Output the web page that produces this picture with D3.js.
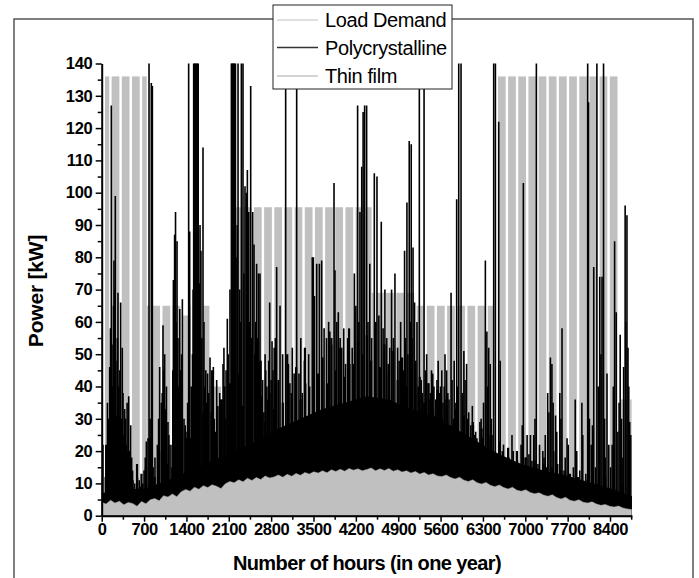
<!DOCTYPE html>
<html><head><meta charset="utf-8">
<script src="https://cdn.jsdelivr.net/npm/d3@7"></script>
<style>
body{margin:0;background:#fff}
svg{display:block;font-family:"Liberation Sans",Arial,sans-serif}
</style>
</head><body>
<svg id="chart" width="699" height="578"></svg>
<script>
// ---------- data ----------
const yTicks = [0,10,20,30,40,50,60,70,80,90,100,110,120,130,140];
const yMinor = [5,15,25,35,45,55,65,75,85,95,105,115,125,135];
const xTicks = [0,700,1400,2100,2800,3500,4200,4900,5600,6300,7000,7700,8400];
const xMinor = [350,1050,1750,2450,3150,3850,4550,5250,5950,6650,7350,8050,8750];

// Load demand: level segments (start hour, end hour, peak kW) with weekend gaps
const loadStart = [55, 744, 1340, 1450, 1780, 2140, 4460, 5180, 6533, 8560];
const loadEnd   = [744, 1340, 1450, 1780, 2140, 4460, 5180, 6478, 8548, 8760];
const loadPeak  = [136, 65, 62, 65, 40, 95.5, 69, 65, 136, 36];
const weekGap   = [124, 164]; // hours within each 168 h week with low load

// Thin film: upper edge of output, one value per 73 h (0 ... 8760)
const sampleStep = 73;
const thinFilm = [
4.2,3.6,4.8,3.9,4.5,3.4,4.1,3.8,2.9,4.4,
3.7,4.9,5.3,4.6,6.2,5.8,6.7,5.9,7.4,8.1,
7.6,8.8,8.2,9.3,8.7,9.6,9.1,8.4,9.9,10.6,
10.2,11.1,10.5,11.6,10.9,11.8,11.2,12.3,11.7,12.0,
12.6,11.9,12.8,12.2,13.1,12.5,13.4,12.9,13.6,13.2,
13.9,13.3,14.2,13.7,14.4,13.8,14.6,14.1,14.5,13.9,
14.3,14.8,13.9,14.5,14.0,14.6,13.8,14.2,13.5,13.9,
13.2,13.7,12.9,13.4,12.6,13.0,12.3,12.1,12.6,11.8,
11.4,11.9,11.0,10.6,11.1,10.2,9.8,10.3,9.4,9.0,
9.5,8.7,8.3,8.8,7.9,7.6,8.0,7.2,6.8,7.1,
6.4,6.0,6.5,5.6,5.2,5.7,4.8,4.5,4.9,4.2,
3.9,4.3,3.6,3.2,3.5,2.9,2.7,3.0,2.4,2.1,1.9];

// Polycrystalline: solid lower band, one value per 365 h (0 ... 8760)
const floorStep = 365;
const polyFloor = [7,8,8.5,11,14,17,20,23,27,30,33,35,37,36,33,31,27,23,19,16,14,12.5,10.5,8.5,6];

// Polycrystalline: daily maxima, one value per 73 h (0 ... 8760)
const polyBase = [
12,22,9,18,30,14,20,11,16,13,
15,24,12,20,28,16,22,35,18,26,
24,38,20,32,27,45,22,36,30,41,
28,44,34,26,40,31,48,29,38,33,
42,35,50,38,46,36,52,40,47,44,
49,41,55,45,52,43,58,47,54,50,
56,48,60,46,53,44,51,42,49,40,
46,38,43,35,41,33,39,30,36,28,
33,26,31,24,29,22,27,20,25,19,
23,18,21,16,20,15,18,14,17,13,
16,12,15,11,14,10,13,9.5,12,9,
11,8.5,10,8,12,7.5,9,7,10,6.5,6];

// Polycrystalline peaks [hour, kW] (values above 140 run off the top)
const polySpikes = [
[21,22],[60,12],[132,46],[159,127],[187,53],[203,79],[225,99],[245,31],[269,69],[290,18],
[313,66],[352,38],[379,33],[407,22],[446,37],[479,28],[510,14],[545,10],[590,12],[640,9],
[700,14],[738,23],[765,24],[782,145],[820,134],[837,133],[880,18],[920,22],[958,46],[985,35],
[1013,59],[1040,50],[1070,40],[1095,29],[1130,22],[1160,15],[1185,73],[1205,87],[1220,94],[1245,85],
[1270,40],[1290,64],[1333,67],[1360,30],[1400,24],[1437,145],[1454,88],[1480,40],[1520,145],[1535,145],
[1550,145],[1565,145],[1580,145],[1595,145],[1612,72],[1640,82],[1674,114],[1700,40],[1720,45],[1750,44],
[1790,49],[1845,46],[1880,26],[1920,34],[1970,31],[2005,47],[2032,40],[2076,61],[2100,28],[2143,145],
[2155,145],[2168,145],[2180,145],[2195,145],[2210,145],[2253,145],[2308,145],[2335,145],[2368,102],[2390,100],
[2407,107],[2430,94],[2462,133],[2495,94],[2517,84],[2560,78],[2590,75],[2616,75],[2640,37],[2680,32],
[2710,45],[2745,36],[2776,66],[2815,54],[2850,52],[2891,77],[2947,65],[2990,50],[3040,145],[3085,47],
[3110,41],[3150,52],[3180,44],[3222,145],[3260,44],[3290,55],[3315,38],[3350,48],[3370,41],[3420,50],
[3480,80],[3498,80],[3515,68],[3553,78],[3597,78],[3635,79],[3675,58],[3715,55],[3750,60],[3770,57],
[3800,53],[3839,103],[3855,76],[3885,60],[3910,63],[3940,55],[3966,52],[4000,58],[4030,47],[4065,55],
[4100,47],[4140,52],[4175,75],[4200,65],[4229,127],[4250,60],[4268,94],[4297,108],[4320,125],[4345,127],
[4378,127],[4400,60],[4430,78],[4460,55],[4505,106],[4549,105],[4580,62],[4620,91],[4650,58],[4680,70],
[4710,55],[4735,47],[4760,52],[4790,70],[4820,55],[4846,75],[4890,52],[4915,48],[4940,60],[4970,45],
[5005,82],[5044,97],[5082,116],[5115,115],[5145,83],[5170,66],[5210,60],[5249,145],[5280,42],[5327,145],
[5350,45],[5395,41],[5430,38],[5470,44],[5520,36],[5560,48],[5600,40],[5640,35],[5673,50],[5720,38],
[5773,69],[5810,30],[5840,35],[5866,98],[5900,145],[5938,145],[5985,51],[6030,47],[6065,32],[6100,28],
[6125,34],[6160,25],[6180,26],[6220,22],[6250,29],[6290,24],[6340,79],[6365,57],[6395,52],[6420,47],
[6450,25],[6478,145],[6506,145],[6561,122],[6585,48],[6620,20],[6670,18],[6710,21],[6755,15],[6800,20],
[6835,15],[6870,17],[6890,16],[6930,22],[6968,103],[7000,18],[7030,25],[7060,19],[7085,25],[7110,17],
[7140,25],[7183,145],[7210,16],[7235,22],[7270,14],[7310,18],[7350,15],[7390,32],[7415,49],[7440,47],
[7470,20],[7500,31],[7535,16],[7570,38],[7607,58],[7640,14],[7690,24],[7725,12],[7760,11],[7795,15],
[7825,36],[7860,12],[7900,14],[7935,35],[7970,10],[8000,13],[8031,145],[8045,128],[8090,22],[8131,77],
[8160,15],[8183,145],[8230,74],[8268,74],[8293,145],[8320,18],[8350,44],[8380,22],[8410,15],[8435,22],
[8476,85],[8502,63],[8530,26],[8568,56],[8600,18],[8625,46],[8650,96],[8680,93],[8697,52],[8725,29],[8745,25],
[95,35],[110,30],[145,58],[175,40],[195,65],[215,70],[235,48],[258,55],[280,40],[300,45],
[325,30],[340,52],[365,25],[395,30],[420,35],[460,20],[495,18],[620,11],[680,10],[720,18],
[800,30],[850,15],[940,30],[1000,38],[1025,45],[1055,33],[1110,25],[1175,45],[1230,60],[1260,55],
[1300,45],[1320,50],[1380,28],[1420,35],[1500,50],[1510,70],[1605,60],[1625,90],[1655,55],[1690,60],
[1735,35],[1770,38],[1810,32],[1860,30],[1900,42],[1950,38],[1990,36],[2020,52],[2055,45],[2090,50],
[2120,70],[2220,80],[2240,90],[2280,70],[2300,60],[2350,75],[2420,70],[2445,60],[2475,55],[2530,50],
[2545,60],[2575,55],[2605,48],[2660,42],[2700,50],[2730,40],[2760,48],[2800,42],[2830,45],[2870,55],
[4990,45],[5020,55],[5060,50],[5100,60],[5130,55],[5190,48],[5230,40],[5300,38],[5370,50],[5410,36],
[5450,45],[5490,40],[5540,42],[5580,38],[5620,45],[5660,40],[5700,45],[5740,36],[5790,42],[5825,48],
[5880,40],[5960,38],[6005,42],[6045,30],[6140,28],[6200,24],[6270,30],[6310,35],[6380,40],[6440,30],
[6640,22],[6730,18],[6780,25],[6950,28],[7160,30],[7290,20],[7330,25],[7370,38],[7460,35],[7520,26],
[7590,30],[7660,18],[7710,22],[7850,20],[7950,25],[8060,30],[8110,28],[8205,40],[8250,50],[8310,30],
[8455,40],[8550,35],[8590,30],[8660,60],[8710,40]];

const legendLabels = ["Load Demand","Polycrystalline","Thin film"];
const legendColors = ["#d4d4d4","#333333","#c4c4c4"];

// ---------- drawing ----------
const FONT = "'Liberation Sans', Arial, sans-serif";
const svg = d3.select("#chart");
const x = d3.scaleLinear().domain([0, 8760]).range([101.7, 631.8]);
const y = d3.scaleLinear().domain([0, 140]).range([515.7, 63.5]);
const GRAY = "#c0c0c0";

svg.append("defs").append("clipPath").attr("id","plotclip")
  .append("rect").attr("x", x(0)).attr("y", y(140))
  .attr("width", x(8760)-x(0)).attr("height", y(0)-y(140));

const plot = svg.append("g").attr("clip-path","url(#plotclip)");

// load demand blocks (weekdays at the segment level)
const loadBlocks = [];
loadStart.forEach((s, i) => {
  const e = loadEnd[i], p = loadPeak[i];
  for (let w = Math.floor(s/168) - 1; w*168 < e; w++) {
    const a = Math.max(s, w*168 + weekGap[1] - 168);
    const b = Math.min(e, w*168 + weekGap[0]);
    if (b > a) loadBlocks.push({a, b, p});
  }
});
plot.append("g").selectAll("rect").data(loadBlocks).join("rect")
  .attr("x", d => x(d.a)).attr("width", d => x(d.b) - x(d.a))
  .attr("y", d => y(d.p)).attr("height", d => y(0) - y(d.p))
  .attr("fill", GRAY);

// polycrystalline solid band
plot.append("path").datum(polyFloor)
  .attr("d", d3.area().x((d, i) => x(i*floorStep)).y0(y(0)).y1(d => y(d)))
  .attr("fill", "#000");

// polycrystalline daily maxima
plot.append("g").selectAll("line").data(polyBase).join("line")
  .attr("x1", (d, i) => x(i*sampleStep)).attr("x2", (d, i) => x(i*sampleStep))
  .attr("y1", y(0)).attr("y2", d => y(d))
  .attr("stroke", "#000").attr("stroke-width", 2.2);

// polycrystalline peaks
plot.append("g").selectAll("line").data(polySpikes).join("line")
  .attr("x1", d => x(d[0])).attr("x2", d => x(d[0]))
  .attr("y1", y(0)).attr("y2", d => y(d[1]))
  .attr("stroke", "#000").attr("stroke-width", 1.6);

// thin film
plot.append("path").datum(thinFilm)
  .attr("d", d3.area().x((d, i) => x(i*sampleStep)).y0(y(0)).y1(d => y(d)))
  .attr("fill", GRAY).attr("stroke", "#a8a8a8").attr("stroke-width", 0.5);

// axes
svg.append("g").attr("transform", `translate(${x(0)},0)`)
  .call(d3.axisLeft(y).tickValues(yTicks).tickSize(6).tickSizeOuter(0).tickPadding(3.5));
svg.append("g").attr("transform", `translate(${x(0)},0)`)
  .call(d3.axisLeft(y).tickValues(yMinor).tickSize(4).tickSizeOuter(0).tickFormat(""))
  .select(".domain").remove();
svg.append("g").attr("transform", `translate(0,${y(0)})`)
  .call(d3.axisBottom(x).tickValues(xTicks).tickFormat(d3.format("d"))
    .tickSize(6).tickSizeOuter(0).tickPadding(1.5));
svg.append("g").attr("transform", `translate(0,${y(0)})`)
  .call(d3.axisBottom(x).tickValues(xMinor).tickSize(4).tickSizeOuter(0).tickFormat(""))
  .select(".domain").remove();

svg.selectAll(".domain").attr("stroke", "#000").attr("stroke-width", 2);
svg.selectAll(".tick line").attr("stroke", "#000").attr("stroke-width", 1.5);
svg.selectAll(".tick text").attr("font-family", FONT)
  .attr("font-size", 16.5).attr("font-weight", "bold").attr("fill", "#000")
  .attr("letter-spacing", -0.4);

// axis titles
svg.append("text").attr("x", 367).attr("y", 570).attr("text-anchor", "middle")
  .attr("font-family", FONT).attr("font-size", 20).attr("font-weight", "bold")
  .attr("letter-spacing", -0.6).text("Number of hours (in one year)");
svg.append("text").attr("transform", "translate(43,291) rotate(-90)")
  .attr("text-anchor", "middle").attr("font-family", FONT).attr("font-size", 21)
  .attr("font-weight", "bold").attr("letter-spacing", -0.2).text("Power [kW]");

// outer frame
svg.append("rect").attr("x", 14).attr("y", 19).attr("width", 679).attr("height", 600)
  .attr("fill", "none").attr("stroke", "#555").attr("stroke-width", 1.5);

// legend
const lg = svg.append("g");
lg.append("rect").attr("x", 273).attr("y", 5).attr("width", 179).attr("height", 84)
  .attr("fill", "#fff").attr("stroke", "#222").attr("stroke-width", 1);
const rowY = [20, 47.5, 76];
legendLabels.forEach((t, i) => {
  lg.append("line").attr("x1", 277).attr("x2", 318).attr("y1", rowY[i]).attr("y2", rowY[i])
    .attr("stroke", legendColors[i]).attr("stroke-width", 1.5);
  lg.append("text").attr("x", 325).attr("y", rowY[i] + 7)
    .attr("font-family", FONT).attr("font-size", 20).attr("letter-spacing", -0.4)
    .attr("fill", "#000").text(t);
});
</script>
</body></html>
